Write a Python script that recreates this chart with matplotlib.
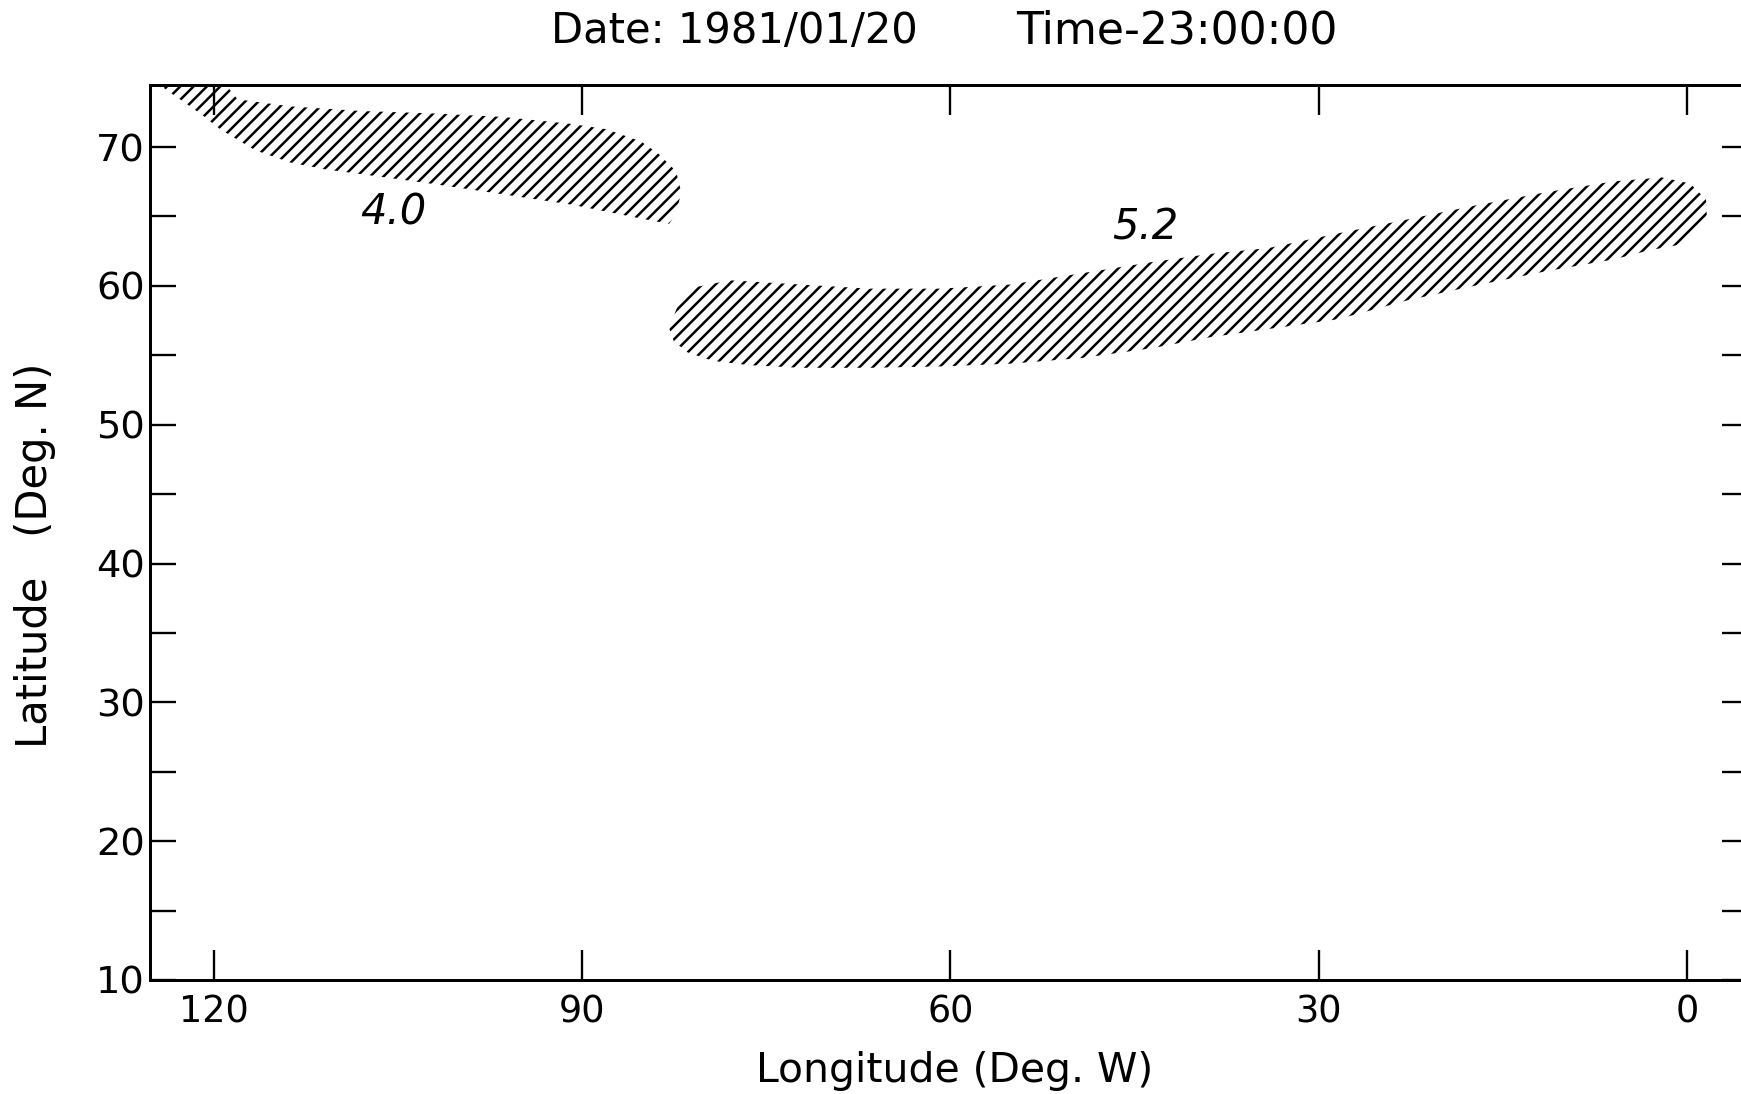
import matplotlib
matplotlib.use("Agg")
import matplotlib.pyplot as plt
from matplotlib.ticker import MultipleLocator

# ── Hatched regions (lon deg W, lat deg N) ───────────────────────
lon_40 = [125.5, 119.5, 118.07, 113.78, 108.07, 102.35, 96.64, 93.78, 90.92,
          88.06, 85.21, 83.78, 82.35, 81.92, 82.35, 82.92, 85.21, 88.06,
          90.92, 96.64, 102.35, 108.07, 110.92, 113.78, 116.64, 119.49,
          120.93, 122.35, 123.79, 124.36, 125.5]
lat_40 = [75.5, 75.0, 73.44, 72.93, 72.60, 72.43, 72.18, 71.93, 71.67,
          71.29, 70.41, 69.52, 68.26, 66.75, 65.23, 64.47, 64.85, 65.36,
          65.86, 66.62, 67.37, 68.06, 68.39, 68.89, 69.77, 71.29,
          72.30, 73.19, 74.07, 74.45, 75.5]

lon_52 = [82.93, 81.95, 80.81, 77.96, 72.26, 66.56, 60.77, 55.07, 49.37,
          43.67, 38.86, 34.05, 28.43, 22.81, 17.19, 11.57, 5.95, 2.04,
          -0.24, -1.55, -1.63, -0.49, 0.90, 3.10, 5.95, 11.57, 17.19,
          22.81, 28.43, 34.05, 38.86, 43.67, 49.37, 55.07, 60.77, 66.56,
          72.26, 76.50, 79.35, 81.39, 82.53]
lat_52 = [57.0, 59.1, 59.9, 60.4, 60.1, 59.8, 59.8, 60.1, 60.9,
          61.7, 62.3, 62.73, 63.78, 64.78, 65.80, 66.73, 67.53, 67.81,
          67.38, 66.23, 64.78, 63.56, 62.92, 62.56, 61.91, 61.04, 60.03,
          58.95, 57.6, 56.9, 56.3, 55.5, 54.8, 54.4, 54.2, 54.1,
          54.1, 54.3, 54.6, 55.2, 56.0]

labels = ["4.0", "5.2"]
label_lon = [105.4, 44.1]
label_lat = [65.3, 64.2]

x_ticks = [120, 90, 60, 30, 0]
y_ticks = [10, 20, 30, 40, 50, 60, 70]

W, H, DPI = 1741, 1094, 120
FS = 22

plt.rcParams.update({"font.family": "DejaVu Sans", "hatch.linewidth": 1.5})

fig = plt.figure(figsize=(W / DPI, H / DPI), dpi=DPI)
ax = fig.add_axes([150 / W, 1 - 980 / H, (1748 - 150) / W, (980 - 85) / H])

ax.fill(lon_40, lat_40, facecolor="none", edgecolor="black", hatch="///", linewidth=0)
ax.fill(lon_52, lat_52, facecolor="none", edgecolor="black", hatch="///", linewidth=0)

for t, lx, ly in zip(labels, label_lon, label_lat):
    ax.text(lx, ly, t, fontsize=25, style="italic", ha="center", va="center")

ax.set_xlim(125.2, -4.97)
ax.set_ylim(10, 74.47)

ax.set_xticks(x_ticks)
ax.set_yticks(y_ticks)
ax.yaxis.set_minor_locator(MultipleLocator(5))
ax.tick_params(axis="x", which="major", direction="in", length=18, width=1.4,
               top=True, labelsize=FS, pad=8)
ax.tick_params(axis="y", which="both", direction="in", length=15.5, width=1.4,
               right=True, labelsize=23, pad=3)
for s in ax.spines.values():
    s.set_linewidth(1.8)

# title drawn as two pieces, like the plotter output
fig.text(734 / W, 1 - 31 / H, "Date: 1981/01/20", fontsize=25, ha="center", va="center")
fig.text(1177 / W, 1 - 31 / H, "Time-23:00:00", fontsize=26.5, ha="center", va="center")
fig.text(955 / W, 1 - 1071 / H, "Longitude (Deg. W)",
         fontsize=24.5, ha="center", va="center")
fig.text(35 / W, 1 - 555 / H, "Latitude   (Deg. N)",
         fontsize=25, ha="center", va="center", rotation=90)

fig.savefig("out.png", dpi=DPI, facecolor="white")
